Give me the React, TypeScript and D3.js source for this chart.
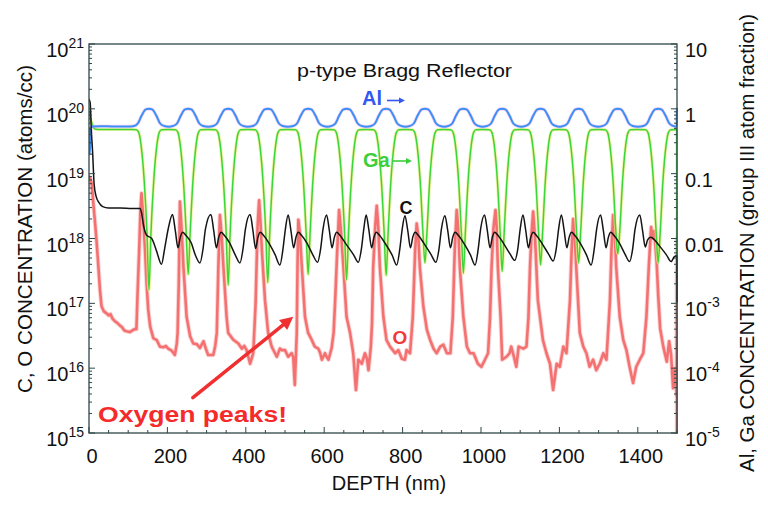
import React from "react";
import * as d3 from "d3";

type P = [number, number];

// ---------- tick data ----------
const depthTicks = [0, 200, 400, 600, 800, 1000, 1200, 1400];
const depthMinorTicks = [50, 100, 150, 250, 300, 350, 450, 500, 550, 650, 700, 750, 850, 900, 950, 1050, 1100, 1150, 1250, 1300, 1350, 1450, 1500];
const leftTickValues = [1e15, 1e16, 1e17, 1e18, 1e19, 1e20, 1e21];
const leftTickLabels = ["10^15", "10^16", "10^17", "10^18", "10^19", "10^20", "10^21"];
const rightTickValues = [1e-5, 1e-4, 1e-3, 0.01, 0.1, 1, 10];
const rightTickLabels = ["10^-5", "10^-4", "10^-3", "0.01", "0.1", "1", "10"];

// ---------- series (depth nm, value) ----------
// Al atom fraction (right axis)
const alData: P[] = [
  [0, 0.5], [2, 0.2], [5, 0.5], [9, 0.535], [30, 0.54], [60, 0.535], [100, 0.535],
  [115, 0.545], [125, 0.6], [134, 0.78], [145, 0.98], [153, 1], [161, 0.98], [172, 0.78], [181, 0.6], [191, 0.545], [203, 0.53],
  [215, 0.545], [225, 0.6], [234, 0.78], [245, 0.98], [253, 1], [261, 0.98], [272, 0.78], [281, 0.6], [291, 0.545], [304, 0.53],
  [317, 0.545], [327, 0.6], [336, 0.78], [347, 0.98], [355, 1], [363, 0.98], [374, 0.78], [383, 0.6], [393, 0.545], [405, 0.53],
  [418, 0.545], [428, 0.6], [437, 0.78], [448, 0.98], [456, 1], [464, 0.98], [475, 0.78], [484, 0.6], [494, 0.545], [507, 0.53],
  [521, 0.545], [531, 0.6], [540, 0.78], [551, 0.98], [559, 1], [567, 0.98], [578, 0.78], [587, 0.6], [597, 0.545], [608, 0.53],
  [619, 0.545], [629, 0.6], [638, 0.78], [649, 0.98], [657, 1], [665, 0.98], [676, 0.78], [685, 0.6], [695, 0.545], [707, 0.53],
  [720, 0.545], [730, 0.6], [739, 0.78], [750, 0.98], [758, 1], [766, 0.98], [777, 0.78], [786, 0.6], [796, 0.545], [807, 0.53],
  [819, 0.545], [829, 0.6], [838, 0.78], [849, 0.98], [857, 1], [865, 0.98], [876, 0.78], [885, 0.6], [895, 0.545], [906, 0.53],
  [917, 0.545], [927, 0.6], [936, 0.78], [947, 0.98], [955, 1], [963, 0.98], [974, 0.78], [983, 0.6], [993, 0.545], [1004, 0.53],
  [1016, 0.545], [1026, 0.6], [1035, 0.78], [1046, 0.98], [1054, 1], [1062, 0.98], [1073, 0.78], [1082, 0.6], [1092, 0.545], [1103, 0.53],
  [1114, 0.545], [1124, 0.6], [1133, 0.78], [1144, 0.98], [1152, 1], [1160, 0.98], [1171, 0.78], [1180, 0.6], [1190, 0.545], [1200, 0.53],
  [1211, 0.545], [1221, 0.6], [1230, 0.78], [1241, 0.98], [1249, 1], [1257, 0.98], [1268, 0.78], [1277, 0.6], [1287, 0.545], [1299, 0.53],
  [1311, 0.545], [1321, 0.6], [1330, 0.78], [1341, 0.98], [1349, 1], [1357, 0.98], [1368, 0.78], [1377, 0.6], [1387, 0.545], [1400, 0.53],
  [1414, 0.545], [1424, 0.6], [1433, 0.78], [1444, 0.98], [1452, 1], [1460, 0.98], [1471, 0.78], [1480, 0.6], [1490, 0.545], [1499.5, 0.53], [1500, 1],
];

// Ga atom fraction (right axis)
const gaData: P[] = [
  [0, 0.9], [3, 0.75], [8, 0.58], [15, 0.49], [30, 0.48], [70, 0.48], [110, 0.48],
  [121, 0.475], [127, 0.43], [133, 0.27], [141, 0.075], [148, 0.012], [153, 0.0016], [158, 0.012], [165, 0.075], [173, 0.27], [179, 0.43], [185, 0.475], [203, 0.48],
  [221, 0.475], [227, 0.43], [233, 0.27], [241, 0.075], [248, 0.012], [253, 0.0028], [258, 0.012], [265, 0.075], [273, 0.27], [279, 0.43], [285, 0.475], [304, 0.48],
  [323, 0.475], [329, 0.43], [335, 0.27], [343, 0.075], [350, 0.012], [355, 0.0019], [360, 0.012], [367, 0.075], [375, 0.27], [381, 0.43], [387, 0.475], [405, 0.48],
  [424, 0.475], [430, 0.43], [436, 0.27], [444, 0.075], [451, 0.012], [456, 0.0021], [461, 0.012], [468, 0.075], [476, 0.27], [482, 0.43], [488, 0.475], [507, 0.48],
  [527, 0.475], [533, 0.43], [539, 0.27], [547, 0.075], [554, 0.012], [559, 0.0028], [564, 0.012], [571, 0.075], [579, 0.27], [585, 0.43], [591, 0.475], [608, 0.48],
  [625, 0.475], [631, 0.43], [637, 0.27], [645, 0.075], [652, 0.012], [657, 0.0023], [662, 0.012], [669, 0.075], [677, 0.27], [683, 0.43], [689, 0.475], [707, 0.48],
  [726, 0.475], [732, 0.43], [738, 0.27], [746, 0.075], [753, 0.012], [758, 0.0027], [763, 0.012], [770, 0.075], [778, 0.27], [784, 0.43], [790, 0.475], [807, 0.48],
  [825, 0.475], [831, 0.43], [837, 0.27], [845, 0.075], [852, 0.012], [857, 0.0042], [862, 0.012], [869, 0.075], [877, 0.27], [883, 0.43], [889, 0.475], [906, 0.48],
  [923, 0.475], [929, 0.43], [935, 0.27], [943, 0.075], [950, 0.012], [955, 0.0029], [960, 0.012], [967, 0.075], [975, 0.27], [981, 0.43], [987, 0.475], [1004, 0.48],
  [1022, 0.475], [1028, 0.43], [1034, 0.27], [1042, 0.075], [1049, 0.012], [1054, 0.0031], [1059, 0.012], [1066, 0.075], [1074, 0.27], [1080, 0.43], [1086, 0.475], [1103, 0.48],
  [1120, 0.475], [1126, 0.43], [1132, 0.27], [1140, 0.075], [1147, 0.012], [1152, 0.0039], [1157, 0.012], [1164, 0.075], [1172, 0.27], [1178, 0.43], [1184, 0.475], [1200, 0.48],
  [1217, 0.475], [1223, 0.43], [1229, 0.27], [1237, 0.075], [1244, 0.012], [1249, 0.0042], [1254, 0.012], [1261, 0.075], [1269, 0.27], [1275, 0.43], [1281, 0.475], [1299, 0.48],
  [1317, 0.475], [1323, 0.43], [1329, 0.27], [1337, 0.075], [1344, 0.013], [1349, 0.0058], [1354, 0.013], [1361, 0.075], [1369, 0.27], [1375, 0.43], [1381, 0.475], [1400, 0.48],
  [1420, 0.475], [1426, 0.43], [1432, 0.27], [1440, 0.075], [1447, 0.012], [1452, 0.0042], [1457, 0.012], [1464, 0.075], [1472, 0.27], [1478, 0.43], [1484, 0.475], [1499.5, 0.48], [1500, 0.005],
];

// Carbon (atoms/cc, left axis)
const cData: P[] = [
  [0, 1.4e20], [3, 1.25e20], [6, 4.5e19], [9, 2.3e19], [13, 7e18], [18, 4.5e18], [25, 3.6e18], [35, 3.1e18], [50, 2.95e18], [80, 2.95e18], [110, 2.9e18], [130, 2.9e18],
  [134, 2.5e18], [139, 1.6e18], [147, 1.12e18], [160, 1.0e18], [172, 6.5e17], [185, 4.0e17], [193, 7e17], [202, 1.4e18],
  [213, 2.35e18], [220, 1.35e18], [227, 7.2e17], [233, 1.05e18], [239, 1.25e18], [247, 1.12e18], [261, 8.5e17], [271, 5.6e17], [283, 4.2e17], [291, 7e17], [297, 1.4e18],
  [311, 2.35e18], [318, 1.35e18], [325, 7.2e17], [331, 1.05e18], [337, 1.25e18], [345, 1.12e18], [359, 8.5e17], [373, 5.6e17], [385, 4.2e17], [393, 7e17], [399, 1.4e18],
  [411, 2.35e18], [418, 1.35e18], [425, 7e17], [431, 1.05e18], [437, 1.25e18], [445, 1.12e18], [459, 8.5e17], [475, 5.6e17], [487, 3.9e17], [495, 7e17], [501, 1.4e18],
  [508, 2.3e18], [515, 1.35e18], [522, 7.2e17], [528, 1.05e18], [534, 1.25e18], [542, 1.12e18], [556, 8.5e17], [571, 5.6e17], [583, 4.3e17], [591, 7e17], [597, 1.4e18],
  [606, 2.3e18], [613, 1.35e18], [620, 7.2e17], [626, 1.05e18], [632, 1.25e18], [640, 1.12e18], [654, 8.5e17], [675, 5.6e17], [687, 4.3e17], [695, 7e17], [701, 1.4e18],
  [707, 2.3e18], [714, 1.35e18], [721, 7.2e17], [727, 1.05e18], [733, 1.25e18], [741, 1.12e18], [755, 8.5e17], [773, 5.6e17], [785, 3.9e17], [793, 7e17], [799, 1.4e18],
  [806, 2.25e18], [813, 1.35e18], [820, 7.2e17], [826, 1.05e18], [832, 1.25e18], [840, 1.12e18], [854, 8.5e17], [873, 5.6e17], [885, 4.3e17], [893, 7e17], [899, 1.4e18],
  [908, 2.25e18], [915, 1.35e18], [922, 7.2e17], [928, 1.05e18], [934, 1.25e18], [942, 1.12e18], [956, 8.5e17], [973, 5.6e17], [985, 3.9e17], [993, 7e17], [999, 1.4e18],
  [1009, 2.3e18], [1016, 1.35e18], [1023, 7.2e17], [1029, 1.05e18], [1035, 1.25e18], [1043, 1.12e18], [1057, 8.5e17], [1074, 5.8e17], [1086, 4.6e17], [1094, 7e17], [1100, 1.4e18],
  [1107, 2.3e18], [1114, 1.35e18], [1121, 7.2e17], [1127, 1.05e18], [1133, 1.25e18], [1141, 1.12e18], [1155, 8.5e17], [1172, 5.8e17], [1184, 4.5e17], [1192, 7e17], [1198, 1.4e18],
  [1205, 2.3e18], [1212, 1.35e18], [1219, 7.2e17], [1225, 1.05e18], [1231, 1.25e18], [1239, 1.12e18], [1253, 8.5e17], [1269, 5.6e17], [1281, 3.9e17], [1289, 7e17], [1295, 1.4e18],
  [1305, 2.3e18], [1312, 1.35e18], [1319, 7.2e17], [1325, 1.05e18], [1331, 1.25e18], [1339, 1.12e18], [1353, 8.5e17], [1367, 5.8e17], [1379, 4.4e17], [1387, 7e17], [1393, 1.4e18],
  [1405, 2.3e18], [1412, 1.35e18], [1419, 7.4e17], [1425, 9.5e17], [1433, 1.05e18], [1443, 9.5e17], [1453, 8e17], [1473, 5.6e17], [1485, 4.4e17], [1493, 5.2e17], [1499.5, 5.4e17], [1500, 1.05e17],
];

// Oxygen (atoms/cc, left axis)
const oData: P[] = [
  [0, 9e18], [3, 8.5e18], [7, 7e18], [12, 3e18], [16, 1.6e18], [20, 8e17], [24, 3.6e17], [28, 1.6e17], [32, 9e16], [38, 7.5e16], [45, 7e16], [50, 6.5e16], [55, 6.8e16],
  [60, 5.8e16], [66, 5.3e16], [72, 5e16], [78, 4.6e16], [84, 4.3e16], [90, 3.8e16], [96, 3.7e16], [104, 3.6e16], [110, 3.8e16], [116, 4e16], [121, 4e16], [124, 1.5e17], [128, 6.6e17], [131, 2.5e18], [134, 5e18],
  [138, 2.2e18], [143, 6.6e17], [147, 2.0e17], [151, 8e16], [156, 4.4e16], [164, 2.9e16], [173, 2.7e16], [181, 2.15e16], [190, 2.1e16], [196, 2.2e16], [202, 2.0e16], [211, 1.86e16], [219, 1.6e16], [224, 2.4e16], [226, 3.5e16], [229, 2.0e17], [232, 3.7e18],
  [236, 1.5e18], [241, 3.6e17], [249, 6.2e16], [258, 3.1e16], [266, 2.4e16], [275, 2.35e16], [283, 2.05e16], [292, 2.6e16], [298, 2.0e16], [304, 1.6e16], [312, 1.6e16], [317, 1.6e16], [322, 2.2e16], [326, 3.5e16], [330, 3.6e17], [334, 2.3e18],
  [338, 1.2e18], [343, 3.6e17], [351, 6.2e16], [355, 3.5e16], [368, 2.75e16], [381, 2.4e16], [390, 2.0e16], [396, 2.2e16], [402, 1.9e16], [411, 1.17e16], [419, 1.7e16], [425, 1.0e17], [430, 1.5e18], [434, 3.9e18],
  [437, 2e18], [441, 6.6e17], [449, 1.12e17], [457, 3.5e16], [466, 2.15e16], [479, 1.5e16], [487, 2.0e16], [492, 1.9e16], [500, 1.9e16], [508, 1.5e16], [517, 1.7e16], [521, 1.5e16], [525, 5.5e15], [530, 3.5e16], [532, 4e17], [534, 1.95e18],
  [538, 1.2e18], [543, 3.6e17], [551, 6.2e16], [559, 3.5e16], [568, 2.75e16], [576, 2.15e16], [585, 2.0e16], [590, 1.7e16], [594, 1.35e16], [602, 1.7e16], [606, 1.5e16], [611, 1.35e16], [619, 2.05e16], [624, 3.5e16], [628, 1.12e17], [633, 6e17], [638, 2.75e18],
  [642, 1.5e18], [649, 3.6e17], [657, 6.2e16], [666, 3.5e16], [674, 1.7e16], [681, 4.6e15], [687, 1.35e16], [696, 1.17e16], [704, 1.7e16], [709, 1.4e16], [713, 9.3e15], [719, 2.15e16], [722, 5e16], [725, 3.6e17], [730, 1.5e18], [734, 3.2e18],
  [738, 1.5e18], [742, 3.6e17], [751, 6.2e16], [759, 2.7e16], [768, 2.15e16], [781, 1.7e16], [789, 1.9e16], [798, 1.4e16], [806, 1.35e16], [810, 1.9e16], [819, 1.7e16], [826, 6.2e16], [832, 6.6e17], [836, 1.7e18],
  [840, 1.1e18], [844, 3.6e17], [853, 8.9e16], [862, 3.9e16], [870, 2.75e16], [879, 2.0e16], [887, 1.7e16], [896, 2.15e16], [904, 2.3e16], [913, 1.7e16], [922, 1.7e16], [928, 6.2e16], [933, 6.6e17], [938, 2.75e18],
  [942, 1.5e18], [946, 3.6e17], [955, 6.2e16], [964, 2.15e16], [972, 1.7e16], [981, 1.7e16], [992, 1.17e16], [1001, 1.05e16], [1010, 1.35e16], [1018, 1.7e16], [1023, 6e16], [1027, 3.6e17], [1032, 1.5e18], [1037, 2.75e18],
  [1040, 1.5e18], [1043, 3.6e17], [1050, 6.2e16], [1054, 1.35e16], [1065, 1.5e16], [1073, 1.7e16], [1077, 2.15e16], [1084, 1.5e16], [1090, 1.05e16], [1096, 2.15e16], [1108, 2.0e16], [1116, 2.15e16], [1121, 6e16], [1125, 3.6e17], [1129, 1.2e18], [1133, 2.6e18],
  [1138, 1e18], [1145, 1.12e17], [1158, 2.7e16], [1167, 1.7e16], [1176, 1.17e16], [1184, 4.6e15], [1193, 1.17e16], [1201, 1.05e16], [1210, 2.15e16], [1218, 1.7e16], [1227, 1.12e17], [1231, 6e17], [1235, 2.0e18],
  [1239, 1.1e18], [1243, 3.6e17], [1252, 3.5e16], [1261, 2.15e16], [1269, 1.7e16], [1277, 1.05e16], [1286, 1.35e16], [1294, 9.3e15], [1303, 1.17e16], [1312, 1.7e16], [1320, 1.35e16], [1329, 1.12e17], [1333, 7e17], [1337, 2.3e18],
  [1341, 1.2e18], [1345, 3.6e17], [1354, 6.2e16], [1363, 2.7e16], [1371, 1.9e16], [1379, 1.05e16], [1388, 5.9e15], [1396, 1.05e16], [1405, 1.35e16], [1414, 1.7e16], [1422, 6.2e16], [1428, 3.6e17], [1434, 1.5e18],
  [1438, 1.0e18], [1442, 1.3e18], [1448, 4.4e17], [1452, 1.35e17], [1457, 4.1e16], [1465, 2.15e16], [1474, 1.26e16], [1480, 2.6e16], [1485, 1.6e16], [1490, 4.9e15], [1495, 1e16], [1499, 3.7e15], [1500, 1e18], [1500, 1e15],
];

// annotation arrow (depth, atoms/cc)
const oxygenArrow: P[] = [[265, 3.5e15], [521, 6.2e16]];

const FONT = "'Liberation Sans', Arial, Helvetica, sans-serif";
const FRAME = "#2f4646";

function PowLabel({ label, sup }: { label: string; sup: number }) {
  const [b, e] = label.split("^");
  return (
    <>
      {b}
      {e !== undefined && (
        <tspan fontSize={sup} dy={-9}>
          {e}
        </tspan>
      )}
    </>
  );
}

function arrowPath(x1: number, y1: number, x2: number, y2: number, len: number, half: number) {
  const dx = x2 - x1, dy = y2 - y1;
  const L = Math.hypot(dx, dy);
  const ux = dx / L, uy = dy / L;
  const bx = x2 - ux * len, by = y2 - uy * len;
  return {
    line: `M${x1},${y1}L${bx},${by}`,
    head: `M${x2},${y2}L${bx - uy * half},${by + ux * half}L${bx + uy * half},${by - ux * half}Z`,
  };
}

export default function App() {
  const L = 89, R = 677, T = 44, B = 433;
  const x = d3.scaleLinear().domain([0, 1500]).range([L, R]);
  const yL = d3.scaleLog().domain([1e15, 1e21]).range([B, T]);
  const yR = d3.scaleLog().domain([1e-5, 10]).range([B, T]);

  const lineL = d3.line<P>().x((d) => x(d[0])).y((d) => yL(d[1])).curve(d3.curveMonotoneX);
  const lineR = d3.line<P>().x((d) => x(d[0])).y((d) => yR(d[1])).curve(d3.curveMonotoneX);
  const lineO = d3.line<P>().x((d) => x(d[0])).y((d) => yL(d[1])).curve(d3.curveLinear);

  const minorL: number[] = [];
  for (let k = 15; k < 21; k++) for (let m = 2; m <= 9; m++) minorL.push(m * Math.pow(10, k));
  const minorR: number[] = [];
  for (let k = -5; k < 1; k++) for (let m = 2; m <= 9; m++) minorR.push(m * Math.pow(10, k));

  const big = arrowPath(x(oxygenArrow[0][0]), yL(oxygenArrow[0][1]), x(oxygenArrow[1][0]), yL(oxygenArrow[1][1]), 13, 6.5);
  const alArrow = arrowPath(387, 100.5, 405, 100.5, 6, 3);
  const gaArrow = arrowPath(392, 161, 412, 161, 6, 3);

  return (
    <svg
      width={768}
      height={505}
      style={{ position: "absolute", left: 0, top: 0, background: "#fff" }}
      fontFamily={FONT}
    >
      <defs>
        <clipPath id="plotClip">
          <rect x={L} y={T - 1} width={R - L + 1} height={B - T + 2} />
        </clipPath>
      </defs>

      {/* curves */}
      <g clipPath="url(#plotClip)" fill="none" strokeLinejoin="round" strokeLinecap="round">
        <path d={lineO(oData) || ""} stroke="#f3a0a0" strokeWidth={4.5} opacity={0.45} />
        <path d={lineO(oData) || ""} stroke="#f25858" strokeWidth={2.6} opacity={0.8} />
        <path d={lineR(gaData) || ""} stroke="#eeee80" strokeWidth={3.2} opacity={0.7} />
        <path d={lineR(gaData) || ""} stroke="#3cd63c" strokeWidth={1.5} />
        <path d={lineR(alData) || ""} stroke="#e9b5f0" strokeWidth={3.6} opacity={0.5} />
        <path d={lineR(alData) || ""} stroke="#3d8ef5" strokeWidth={2} />
        <path d={lineL(cData) || ""} stroke="#141414" strokeWidth={1.5} />
      </g>

      {/* frame */}
      <rect x={L} y={T} width={R - L} height={B - T} fill="none" stroke={FRAME} strokeWidth={1.3} />

      {/* left ticks */}
      <g stroke={FRAME} strokeWidth={1}>
        {leftTickValues.map((v) => (
          <line key={"lM" + v} x1={L} x2={L + 6} y1={yL(v)} y2={yL(v)} />
        ))}
        {minorL.map((v) => (
          <line key={"lm" + v} x1={L} x2={L + 3} y1={yL(v)} y2={yL(v)} />
        ))}
        {rightTickValues.map((v) => (
          <line key={"rM" + v} x1={R} x2={R - 6} y1={yR(v)} y2={yR(v)} />
        ))}
        {minorR.map((v) => (
          <line key={"rm" + v} x1={R} x2={R - 3} y1={yR(v)} y2={yR(v)} />
        ))}
        {depthTicks.map((v) => (
          <line key={"bM" + v} x1={x(v)} x2={x(v)} y1={B} y2={B - 6} />
        ))}
        {depthMinorTicks.map((v) => (
          <line key={"bm" + v} x1={x(v)} x2={x(v)} y1={B} y2={B - 3} />
        ))}
      </g>

      {/* tick labels */}
      <g fill="#111" fontSize={20}>
        {leftTickValues.map((v, i) => (
          <text key={"lt" + v} x={84} y={yL(v) + 13} textAnchor="end">
            <PowLabel label={leftTickLabels[i]} sup={14} />
          </text>
        ))}
        {rightTickValues.map((v, i) => (
          <text key={"rt" + v} x={685} y={yR(v) + 13} textAnchor="start">
            <PowLabel label={rightTickLabels[i]} sup={14} />
          </text>
        ))}
        {depthTicks.map((v) => (
          <text key={"bt" + v} x={x(v) + 3} y={463} textAnchor="middle">
            {v}
          </text>
        ))}
      </g>

      {/* axis titles */}
      <text x={389} y={490} textAnchor="middle" fontSize={20} fill="#111">
        DEPTH (nm)
      </text>
      <text
        transform="translate(32,229) rotate(-90)"
        textAnchor="middle"
        fontSize={20}
        fill="#111"
        textLength={328}
        lengthAdjust="spacingAndGlyphs"
      >
        C, O CONCENTRATION (atoms/cc)
      </text>
      <text
        transform="translate(754,243) rotate(-90)"
        textAnchor="middle"
        fontSize={20}
        fill="#111"
        textLength={458}
        lengthAdjust="spacingAndGlyphs"
      >
        Al, Ga CONCENTRATION (group III atom fraction)
      </text>

      {/* title and annotations */}
      <text x={297} y={76.5} fontSize={18} fill="#111" textLength={215} lengthAdjust="spacingAndGlyphs">
        p-type Bragg Reflector
      </text>

      <text x={362} y={105} fontSize={20} fontWeight="bold" fill="#3358f0">
        Al
      </text>
      <path d={alArrow.line} stroke="#3358f0" strokeWidth={1.6} />
      <path d={alArrow.head} fill="#3358f0" />

      <text x={363} y={167} fontSize={20} fontWeight="bold" fill="#3ccf3c">
        Ga
      </text>
      <path d={gaArrow.line} stroke="#3ccf3c" strokeWidth={1.6} />
      <path d={gaArrow.head} fill="#3ccf3c" />

      <text x={399.5} y={213.5} fontSize={18} fontWeight="bold" fill="#111">
        C
      </text>
      <text x={392.5} y={343.5} fontSize={19} fontWeight="bold" fill="#f03a3a">
        O
      </text>

      <path d={big.line} stroke="#f03030" strokeWidth={3.5} strokeLinecap="round" />
      <path d={big.head} fill="#f03030" />
      <text
        x={98}
        y={421.5}
        fontSize={22}
        fontWeight="bold"
        fill="#f52a2a"
        textLength={189}
        lengthAdjust="spacingAndGlyphs"
      >
        Oxygen peaks!
      </text>
    </svg>
  );
}
